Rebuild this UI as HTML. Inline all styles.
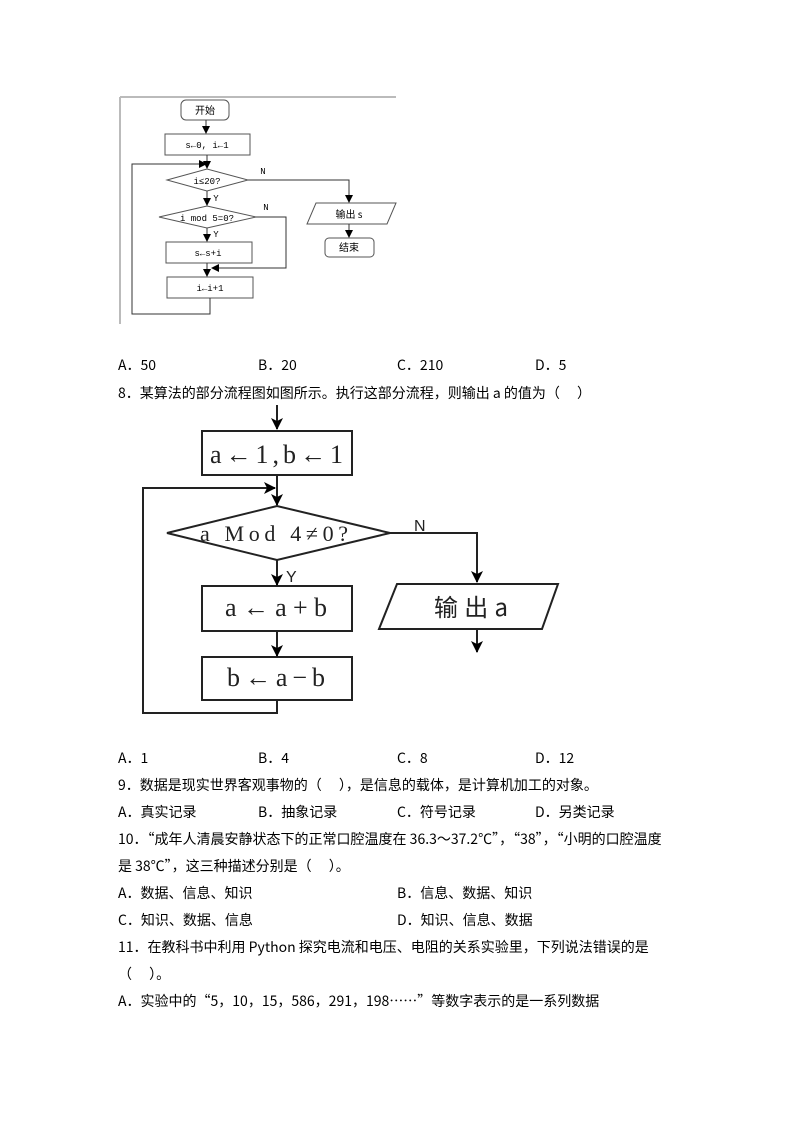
<!DOCTYPE html>
<html><head><meta charset="utf-8"><style>
body{margin:0;background:#fff;width:794px;height:1123px;position:relative;overflow:hidden;font-family:"Liberation Serif","Noto Sans CJK SC",serif;color:#000}
.t{position:absolute;font-size:14px;line-height:16px;white-space:nowrap;font-family:"Noto Sans CJK SC","WenQuanYi Zen Hei",sans-serif}
svg{position:absolute;left:0;top:0}
</style></head><body>
<svg width="794" height="1123" viewBox="0 0 794 1123">
<defs>
<marker id="a" markerWidth="8" markerHeight="8" refX="7" refY="4" orient="auto" markerUnits="userSpaceOnUse"><path d="M0,0 L8,4 L0,8z" fill="#000"/></marker>
<marker id="b" markerWidth="12" markerHeight="12" refX="11" refY="6" orient="auto" markerUnits="userSpaceOnUse"><path d="M0,0 L12,6 L0,12 L3,6z" fill="#000"/></marker>
</defs>
<g fill="none" stroke="#555" stroke-width="1">
<line x1="120" y1="97" x2="396" y2="97" stroke="#bbb" stroke-width="2"/>
<line x1="120" y1="97" x2="120" y2="324" stroke="#bbb" stroke-width="2"/>
<rect x="181" y="100" width="48" height="20" rx="5"/>
<rect x="165" y="134" width="85" height="21"/>
<polygon points="167,180 207,169 248,180 207,191"/>
<polygon points="159,217 207,206 256,217 207,228"/>
<rect x="166" y="242" width="86" height="21"/>
<rect x="167" y="277" width="86" height="21"/>
<polygon points="316,203 396,203 387,224 307,224"/>
<rect x="325" y="238" width="49" height="19" rx="4"/>
<g stroke="#333">
<line x1="206" y1="120" x2="206" y2="133" marker-end="url(#a)"/>
<line x1="207" y1="155" x2="207" y2="168" marker-end="url(#a)"/>
<line x1="207" y1="191" x2="207" y2="205" marker-end="url(#a)"/>
<line x1="207" y1="228" x2="207" y2="241" marker-end="url(#a)"/>
<line x1="207" y1="263" x2="207" y2="276" marker-end="url(#a)"/>
<polyline points="210,298 210,314 132,314 132,164 206,164" marker-end="url(#a)"/>
<polyline points="256,217 286,217 286,268 212,268" marker-end="url(#a)"/>
<polyline points="248,180 349,180 349,202" marker-end="url(#a)"/>
<line x1="349" y1="224" x2="349" y2="237" marker-end="url(#a)"/>
</g></g>
<g font-family="Liberation Mono,Noto Sans CJK SC,monospace" font-size="9" text-anchor="middle">
<text x="205" y="114" font-family="Noto Sans CJK SC,sans-serif" font-size="10">开始</text>
<text x="207" y="148">s←0, i←1</text>
<text x="207" y="184">i≤20?</text>
<text x="207" y="221">i mod 5=0?</text>
<text x="208" y="256">s←s+i</text>
<text x="210" y="291">i←i+1</text>
<text x="349" y="218" font-family="Noto Sans CJK SC,sans-serif" font-size="10">输出 s</text>
<text x="349" y="251" font-family="Noto Sans CJK SC,sans-serif" font-size="10">结束</text>
<text x="263" y="174">N</text><text x="216" y="201">Y</text>
<text x="266" y="210">N</text><text x="216" y="237">Y</text>
</g>
<g fill="none" stroke="#222" stroke-width="2">
<rect x="202" y="431" width="150" height="44"/>
<polygon points="167,533 277,506 390,533 277,560"/>
<rect x="202" y="586" width="150" height="45"/>
<rect x="202" y="657" width="150" height="43"/>
<polygon points="397,584 558,584 542,629 379,629"/>
<line x1="277" y1="405" x2="277" y2="429" marker-end="url(#b)"/>
<line x1="277" y1="475" x2="277" y2="505" marker-end="url(#b)"/>
<line x1="277" y1="560" x2="277" y2="585" marker-end="url(#b)"/>
<line x1="277" y1="631" x2="277" y2="656" marker-end="url(#b)"/>
<polyline points="277,700 277,713 143,713 143,488 275,488" marker-end="url(#b)"/>
<polyline points="390,533 477,533 477,582" marker-end="url(#b)"/>
<line x1="477" y1="629" x2="477" y2="652" marker-end="url(#b)"/>
</g>
<g font-family="Liberation Serif,serif" font-size="26" fill="#222">
<text x="210" y="463" textLength="133" lengthAdjust="spacing">a←1,b←1</text>
<text x="200" y="541" font-size="22" textLength="148" lengthAdjust="spacing">a Mod 4≠0?</text>
<text x="225" y="616" textLength="102" lengthAdjust="spacing">a←a+b</text>
<text x="227" y="686" textLength="98" lengthAdjust="spacing">b←a−b</text>
<text x="434" y="616" font-family="Noto Sans CJK SC,sans-serif" font-size="24" textLength="74" lengthAdjust="spacing">输出a</text>
<text x="414" y="531" font-family="Liberation Sans,sans-serif" font-size="16">N</text>
<text x="286" y="582" font-family="Liberation Sans,sans-serif" font-size="16">Y</text>
</g>
</svg>
<div class="t" style="left:118px;top:357px">A．50</div>
<div class="t" style="left:258px;top:357px">B．20</div>
<div class="t" style="left:397px;top:357px">C．210</div>
<div class="t" style="left:535px;top:357px">D．5</div>
<div class="t" style="left:118px;top:385px">8．某算法的部分流程图如图所示。执行这部分流程，则输出 a 的值为（　 ）</div>
<div class="t" style="left:118px;top:750px">A．1</div>
<div class="t" style="left:258px;top:750px">B．4</div>
<div class="t" style="left:397px;top:750px">C．8</div>
<div class="t" style="left:535px;top:750px">D．12</div>
<div class="t" style="left:118px;top:777px">9．数据是现实世界客观事物的（　 ），是信息的载体，是计算机加工的对象。</div>
<div class="t" style="left:118px;top:804px">A．真实记录</div>
<div class="t" style="left:258px;top:804px">B．抽象记录</div>
<div class="t" style="left:397px;top:804px">C．符号记录</div>
<div class="t" style="left:535px;top:804px">D．另类记录</div>
<div class="t" style="left:118px;top:831px">10．“成年人清晨安静状态下的正常口腔温度在 36.3～37.2℃”，“38”，“小明的口腔温度</div>
<div class="t" style="left:118px;top:858px">是 38℃”，这三种描述分别是（　 ）。</div>
<div class="t" style="left:118px;top:885px">A．数据、信息、知识</div>
<div class="t" style="left:397px;top:885px">B．信息、数据、知识</div>
<div class="t" style="left:118px;top:912px">C．知识、数据、信息</div>
<div class="t" style="left:397px;top:912px">D．知识、信息、数据</div>
<div class="t" style="left:118px;top:939px">11．在教科书中利用 Python 探究电流和电压、电阻的关系实验里，下列说法错误的是</div>
<div class="t" style="left:118px;top:966px">（　 ）。</div>
<div class="t" style="left:118px;top:993px">A．实验中的“5，10，15，586，291，198……”等数字表示的是一系列数据</div>
</body></html>
